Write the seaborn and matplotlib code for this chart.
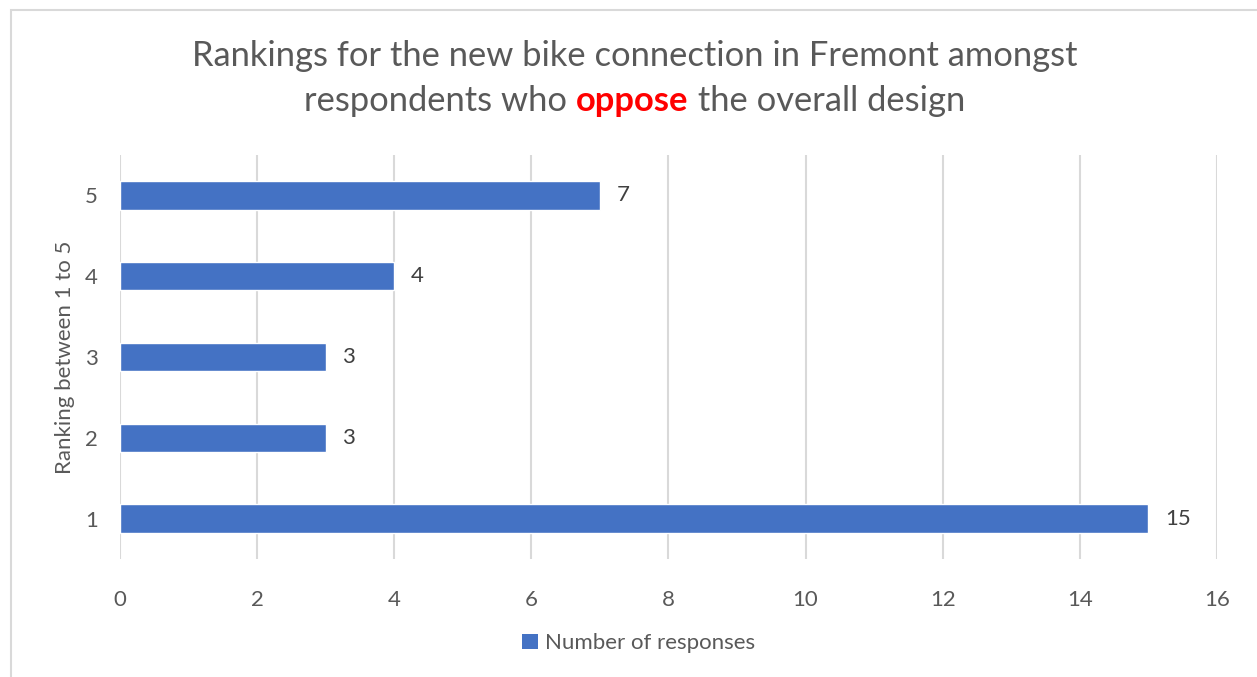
import pandas as pd
import numpy as np
import matplotlib.pyplot as plt
import seaborn as sns
from matplotlib.patches import Rectangle, Patch

# Data
rankings = ['5', '4', '3', '2', '1']
responses = [7, 4, 3, 3, 15]
x_ticks = [0, 2, 4, 6, 8, 10, 12, 14, 16]

df = pd.DataFrame({'Ranking': rankings, 'Number of responses': responses})

sns.set_theme(style='white')
plt.rcParams['font.family'] = ['Lato', 'DejaVu Sans']

bar_color = '#4472C4'
text_color = '#595959'

fig = plt.figure(figsize=(12.57, 6.77), dpi=100)
ax = fig.add_axes([0.0955, 0.1743, 0.8725, 0.5967])

sns.barplot(data=df, x='Number of responses', y='Ranking', order=rankings,
            color=bar_color, width=0.35, saturation=1, orient='h', ax=ax)

ax.set_xlim(0, 16)
ax.set_xticks(x_ticks)
ax.xaxis.grid(True, color='#D9D9D9', linewidth=1.5)
ax.yaxis.grid(False)
ax.set_axisbelow(True)
for s in ax.spines.values():
    s.set_visible(False)
ax.tick_params(axis='both', length=0, labelsize=16, labelcolor=text_color)
ax.tick_params(axis='x', pad=22)
ax.tick_params(axis='y', pad=16)
ax.set_xlabel('')
ax.set_ylabel('Ranking between 1 to 5', fontsize=16, color=text_color, labelpad=7)

ax.bar_label(ax.containers[0], padding=12, fontsize=16, color='#404040')

# Legend
handle = Patch(facecolor=bar_color, edgecolor='none', label='Number of responses')
fig.legend(handles=[handle], loc='center', bbox_to_anchor=(0.508, 0.05), frameon=False,
           fontsize=16, labelcolor=text_color, handlelength=0.7, handleheight=0.7,
           handletextpad=0.3)

# Title, second line with red bold word
title_size = 24.8
fig.text(0.505, 1 - 56 / 677, 'Rankings for the new bike connection in Fremont amongst',
         ha='center', va='center', fontsize=title_size, color=text_color)

parts = [('respondents who ', text_color, 'normal'),
         ('oppose', '#FF0000', 'bold'),
         (' the overall design', text_color, 'normal')]
y2 = 1 - 101 / 677
renderer = fig.canvas.get_renderer()
texts = []
for s, c, w in parts:
    t = fig.text(0, y2, s, ha='left', va='center', fontsize=title_size, color=c, fontweight=w)
    texts.append(t)
widths = [t.get_window_extent(renderer).width for t in texts]
fig_w = fig.get_figwidth() * fig.dpi
x = 0.505 - sum(widths) / fig_w / 2
for t, wdt in zip(texts, widths):
    t.set_x(x)
    x += wdt / fig_w

# Chart border
fig.patches.append(Rectangle((11 / 1257, -0.1), 1.2, 1 - 10 / 677 + 0.1,
                             transform=fig.transFigure, fill=False,
                             edgecolor='#D9D9D9', linewidth=1.5))

fig.savefig('out.png', dpi=100)
